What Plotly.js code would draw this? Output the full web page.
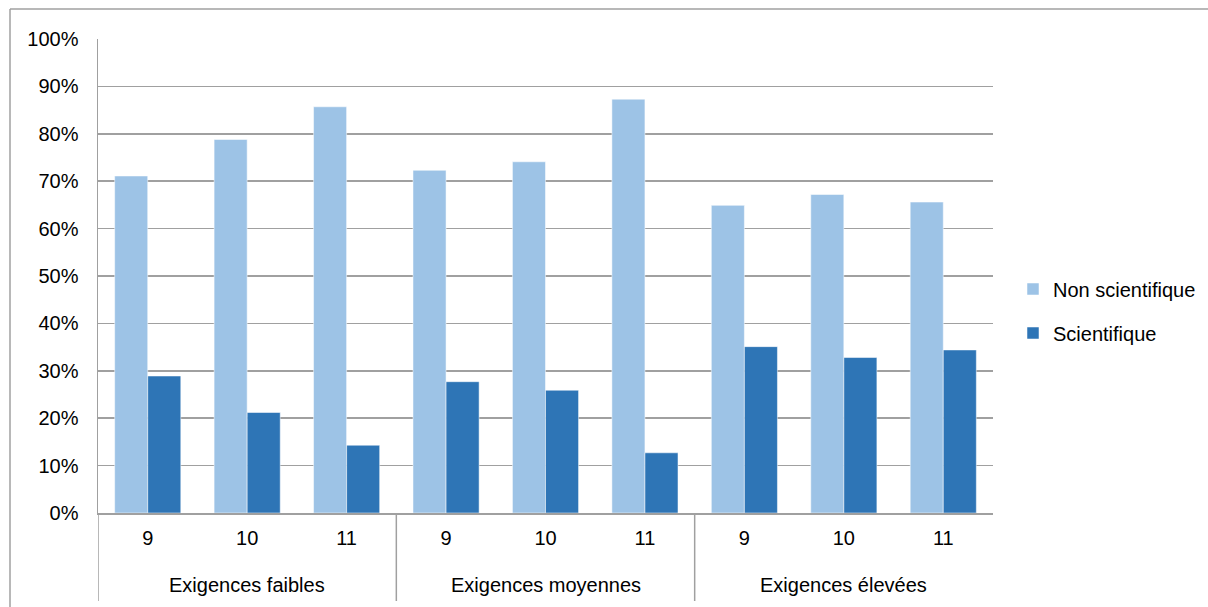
<!DOCTYPE html>
<html>
<head>
<meta charset="utf-8">
<script src="https://cdn.plot.ly/plotly-3.0.1.min.js"></script>
<style>
  html, body { margin: 0; padding: 0; background: #fff; }
  #chart { width: 1208px; height: 607px; }
</style>
</head>
<body>
<div id="chart"></div>
<script>
const groupNames = ["Exigences faibles", "Exigences moyennes", "Exigences élevées"];
const groups = ["Exigences faibles", "Exigences faibles", "Exigences faibles",
                "Exigences moyennes", "Exigences moyennes", "Exigences moyennes",
                "Exigences élevées", "Exigences élevées", "Exigences élevées"];
const grades = ["9", "10", "11", "9", "10", "11", "9", "10", "11"];
const nonScientifique = [0.711, 0.788, 0.857, 0.723, 0.741, 0.873, 0.649, 0.672, 0.656];
const scientifique    = [0.289, 0.212, 0.143, 0.277, 0.259, 0.127, 0.351, 0.328, 0.344];
const seriesNames = ["Non scientifique", "Scientifique"];
const yTickVals = [0, 0.1, 0.2, 0.3, 0.4, 0.5, 0.6, 0.7, 0.8, 0.9, 1.0];

// category index positions along the x axis
const xIdx = grades.map((_, i) => i);

const font = { family: "Liberation Sans, Arial, sans-serif", size: 20, color: "#000" };
const grid = "#a0a0a0";

const traces = [
  {
    type: "bar", name: seriesNames[0], x: xIdx, y: nonScientifique,
    customdata: groups,
    marker: { color: "#9DC3E6", line: { color: "rgba(255,255,255,0.5)", width: 1 } },
    legendgroup: "a", hoverinfo: "skip"
  },
  {
    type: "bar", name: seriesNames[1], x: xIdx, y: scientifique,
    customdata: groups,
    marker: { color: "#2E75B6", line: { color: "rgba(255,255,255,0.5)", width: 1 } },
    legendgroup: "b", hoverinfo: "skip"
  }
];

const L = 98, R = 993, T = 39, B = 513, W = 1208, H = 607;
const pw = R - L, ph = B - T;
const nCat = grades.length;

// group label annotations and dividers, from the group arrays
const annotations = [];
const shapes = [];
groupNames.forEach(g => {
  const idx = xIdx.filter(i => groups[i] === g);
  const first = Math.min(...idx), last = Math.max(...idx);
  annotations.push({
    xref: "x", yref: "paper", x: (first + last) / 2, y: -(585 - B) / ph,
    xanchor: "center", yanchor: "middle", showarrow: false,
    text: g, font: font
  });
  shapes.push({
    type: "line", xref: "x", yref: "paper",
    x0: first - 0.5, x1: first - 0.5, y0: 0, y1: -(601 - B) / ph,
    line: { color: grid, width: 1.5 }
  });
});

shapes.push(
  { type: "line", xref: "paper", yref: "paper",
    x0: (10 - L) / pw, x1: (W + 5 - L) / pw, y0: 1 + (T - 9) / ph, y1: 1 + (T - 9) / ph,
    line: { color: grid, width: 1.5 } },
  { type: "line", xref: "paper", yref: "paper",
    x0: (10 - L) / pw, x1: (10 - L) / pw, y0: 1 + (T - 9) / ph, y1: -(H + 5 - B) / ph,
    line: { color: grid, width: 1.5 } }
);

const layout = {
  width: W, height: H,
  margin: { l: L, r: W - R, t: T, b: H - B, pad: 0 },
  paper_bgcolor: "#fff", plot_bgcolor: "#fff",
  font: font,
  barmode: "group",
  bargap: 0.335,
  bargroupgap: 0,
  showlegend: true,
  legend: {
    xref: "container", yref: "container",
    x: 1013 / W, xanchor: "left", y: 1 - 311 / H, yanchor: "middle",
    font: font, traceorder: "grouped", tracegroupgap: 15,
    itemwidth: 30, bgcolor: "rgba(0,0,0,0)"
  },
  xaxis: {
    type: "linear", range: [-0.5, nCat - 0.5],
    tickvals: xIdx, ticktext: grades,
    showline: true, linecolor: grid, linewidth: 1.5,
    showgrid: false, zeroline: false, ticks: "",
    ticklabelstandoff: 6,
    tickfont: font, automargin: false
  },
  yaxis: {
    range: [0, 1], tickvals: yTickVals, tickformat: ".0%",
    showline: true, linecolor: grid, linewidth: 1.5,
    showgrid: true, gridcolor: grid, gridwidth: 1.5,
    zeroline: false, ticks: "", ticklabelstandoff: 14,
    tickfont: font, automargin: false
  },
  annotations: annotations,
  shapes: shapes
};

Plotly.newPlot("chart", traces, layout, { staticPlot: true, displayModeBar: false });
</script>
</body>
</html>
